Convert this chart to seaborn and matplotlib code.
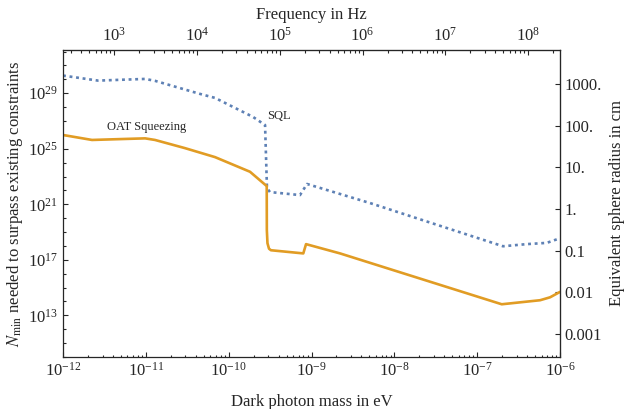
import numpy as np
import pandas as pd
import matplotlib
matplotlib.use("Agg")
import matplotlib.pyplot as plt
import matplotlib.ticker as mticker
import seaborn as sns

# Dark photon mass (eV) and N_min
sql_mass = [1.0e-12, 2.65e-12, 9.8e-12, 1.29e-11, 4.51e-11, 6.84e-11, 1.97e-10,
            2.75e-10, 2.90e-10, 3.15e-10, 7.26e-10, 8.83e-10, 5.08e-9,
            2.05e-7, 3.96e-7, 6.92e-7, 1.0e-6]
sql_n = [1.86e30, 8.1e29, 1.07e30, 7.8e29, 8.9e28, 4.6e28, 1.95e27,
         5.1e26, 1.48e22, 7.6e21, 4.6e21, 2.9e22, 1.23e21,
         9.5e17, 1.35e18, 1.66e18, 3.6e18]

oat_mass = [1.0e-12, 2.24e-12, 5.13e-12, 9.8e-12, 1.29e-11, 2.95e-11, 6.84e-11,
            1.81e-10, 2.88e-10, 2.89e-10, 2.94e-10, 3.07e-10, 3.24e-10,
            7.96e-10, 8.59e-10, 2.21e-9, 1.98e-7, 5.75e-7, 7.59e-7, 1.0e-6]
oat_n = [9.8e25, 4.3e25, 5.0e25, 5.6e25, 4.3e25, 1.12e25, 2.5e24,
         2.2e23, 2.05e22, 1.38e19, 1.58e18, 6.3e17, 4.9e17,
         2.9e17, 1.35e18, 2.9e17, 6.3e13, 1.23e14, 2.0e14, 4.9e14]

mass_ticks = [1e-12, 1e-11, 1e-10, 1e-9, 1e-8, 1e-7, 1e-6]
freq_ticks = [1e3, 1e4, 1e5, 1e6, 1e7, 1e8]
n_ticks = [1e13, 1e17, 1e21, 1e25, 1e29]
radius_ticks = [0.001, 0.01, 0.1, 1, 10, 100, 1000]
radius_labels = ["0.001", "0.01", "0.1", "1.", "10.", "100.", "1000."]

EV_TO_HZ = 2.418e14
N_PER_CM3 = 4.5e20

df = pd.concat([
    pd.DataFrame({"mass": sql_mass, "N": sql_n, "curve": "SQL"}),
    pd.DataFrame({"mass": oat_mass, "N": oat_n, "curve": "OAT"}),
])

sns.set_style("ticks")
plt.rcParams["font.family"] = ["Liberation Serif", "DejaVu Serif"]
plt.rcParams["mathtext.fontset"] = "stix"
plt.rcParams["font.size"] = 12

fig = plt.figure(figsize=(6.25, 4.09), dpi=100)
ax = fig.add_axes([0.1008, 0.1271, 0.7952, 0.7507])

sns.lineplot(data=df[df.curve == "SQL"], x="mass", y="N", ax=ax, sort=False,
             estimator=None, color="#5E81B5", linewidth=1.9)
ax.lines[-1].set_linestyle((0, (1.1, 1.4)))
ax.lines[-1].set_dash_capstyle("butt")
sns.lineplot(data=df[df.curve == "OAT"], x="mass", y="N", ax=ax, sort=False,
             estimator=None, color="#E19C24", linewidth=1.9)

ax.set_xscale("log")
ax.set_yscale("log")
ax.set_xlim(1e-12, 1e-6)
ax.set_ylim(1e10, 1.3e32)

minor_mass = [m * k for m in mass_ticks[:-1] for k in range(2, 10)]
ax.xaxis.set_major_locator(mticker.FixedLocator(mass_ticks))
ax.xaxis.set_major_formatter(mticker.LogFormatterMathtext())
ax.xaxis.set_minor_locator(mticker.FixedLocator(minor_mass))
ax.xaxis.set_minor_formatter(mticker.NullFormatter())
ax.yaxis.set_major_locator(mticker.FixedLocator(n_ticks))
ax.yaxis.set_minor_locator(mticker.FixedLocator([10.0 ** k for k in range(10, 33)]))
ax.yaxis.set_major_formatter(mticker.LogFormatterMathtext())
ax.yaxis.set_minor_formatter(mticker.NullFormatter())

ax.tick_params(which="both", direction="in", width=0.8, labelsize=12)
ax.tick_params(which="major", length=3.5)
ax.tick_params(which="minor", length=1.8)
for s in ax.spines.values():
    s.set_linewidth(0.9)

ax.set_xlabel("Dark photon mass in eV", fontsize=12, labelpad=10)
ax.set_ylabel(r"$N_{\mathrm{min}}$ needed to surpass existing constraints", fontsize=12, labelpad=2)

ax.text(1.03e-11, 3.7e26, "OAT Squeezing", fontsize=9, ha="center", va="center")
ax.text(4.06e-10, 2.3e27, "SQL", fontsize=9, ha="center", va="center")

top = ax.secondary_xaxis("top", functions=(lambda m: m * EV_TO_HZ, lambda f: f / EV_TO_HZ))
top.set_xscale("log")
minor_freq = [f * k for f in [1e2] + freq_ticks for k in range(2, 10)
              if 1e-12 * EV_TO_HZ <= f * k <= 1e-6 * EV_TO_HZ]
top.xaxis.set_major_locator(mticker.FixedLocator(freq_ticks))
top.xaxis.set_major_formatter(mticker.LogFormatterMathtext())
top.xaxis.set_minor_locator(mticker.FixedLocator(minor_freq))
top.xaxis.set_minor_formatter(mticker.NullFormatter())
top.tick_params(which="both", direction="in", width=0.8, labelsize=12)
top.tick_params(which="major", length=3.5)
top.tick_params(which="minor", length=1.8)
top.set_xlabel("Frequency in Hz", fontsize=12, labelpad=6)

right = ax.secondary_yaxis("right", functions=(lambda n: np.cbrt(np.abs(n) / N_PER_CM3),
                                                lambda r: N_PER_CM3 * np.abs(r) ** 3))
right.set_yscale("log")
right.yaxis.set_major_locator(mticker.FixedLocator(radius_ticks))
right.yaxis.set_major_formatter(mticker.FixedFormatter(radius_labels))
right.yaxis.set_minor_locator(mticker.NullLocator())
right.tick_params(which="both", direction="in", width=0.8, length=3.5, labelsize=12)
right.set_ylabel("Equivalent sphere radius in cm", fontsize=12, labelpad=5)

fig.savefig("out.png", dpi=100)
